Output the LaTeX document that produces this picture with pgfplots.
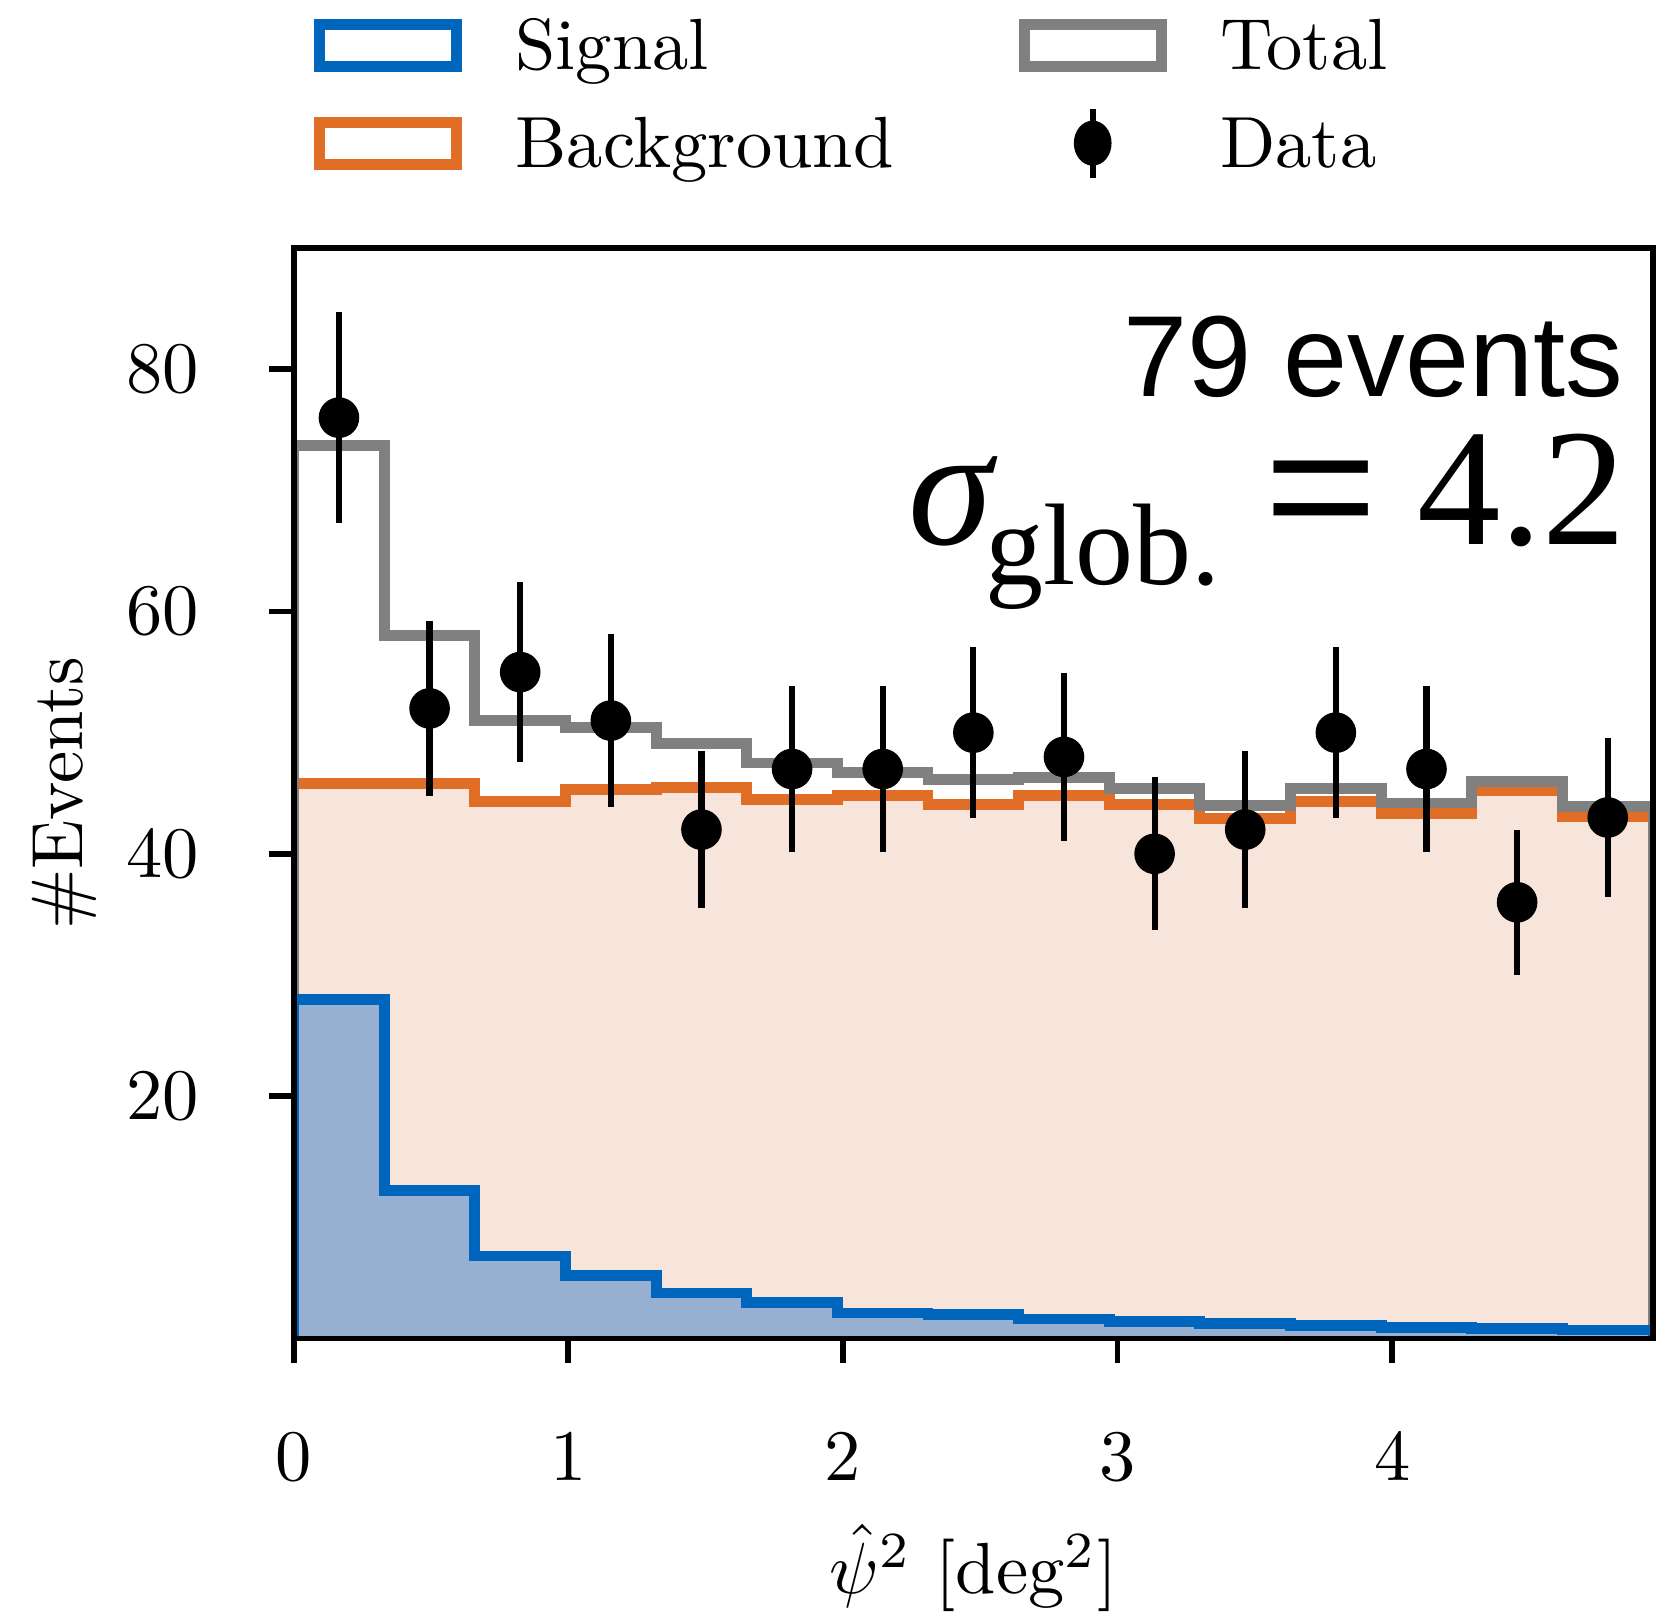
\documentclass[border=0pt]{standalone}
\usepackage{graphicx}
\usepackage{pgfplots}
\pgfplotsset{compat=1.18}
\usepackage{fontspec}
\newfontfamily\sansT{Liberation Sans}
\newfontfamily\serifT{Liberation Serif}
\definecolor{sigblue}{RGB}{0,101,189}
\definecolor{sigfill}{RGB}{151,175,208}
\definecolor{bkgorange}{RGB}{224,110,38}
\definecolor{bkgfill}{RGB}{247,228,218}
\definecolor{totgray}{RGB}{128,128,128}
\begin{document}
\begin{tikzpicture}
\begin{axis}[
  scale only axis, width=187.5pt, height=150.4pt,
  at={(0,0)}, anchor=south west,
  xmin=0, xmax=4.95, ymin=0, ymax=90,
  xtick={0,1,2,3,4}, ytick={20,40,60,80},
  tick align=outside, major tick length=3.4pt,
  tick style={black, line width=0.8pt},
  axis line style={line width=0.8pt},
  xtick pos=bottom, ytick pos=left,
  axis on top=true,
  xticklabel style={inner sep=0pt, anchor=north, yshift=-9.6pt},
  yticklabel style={inner sep=0pt, anchor=east, xshift=-9.5pt},
  xlabel={$\hat{\psi}^2$ [deg$^2$]},
  ylabel={\#Events},
  xlabel style={at={(axis description cs:0.5,-0.234)}, anchor=base, inner sep=0pt},
  ylabel style={at={(axis description cs:-0.169,0.5)}, anchor=center, inner sep=0pt},
  legend columns=2, legend cell align=left,
  legend style={draw=none, fill=none, inner sep=0pt, outer sep=0pt,
    at={(axis description cs:0.0149,1.2104)}, anchor=north west,
    nodes={inner sep=0pt, text height=6.83pt, text depth=0pt},
    row sep=4.7pt, column sep=7.4pt,
    /tikz/every even column/.append style={column sep=17.3pt}},
]
% background fill
\addplot[draw=none, fill=bkgfill, const plot, forget plot] coordinates {
(0,45.8) (0.33,45.8) (0.66,44.3) (0.99,45.3) (1.32,45.5) (1.65,44.5) (1.98,44.8) (2.31,44.1) (2.64,44.8) (2.97,44.1) (3.30,42.9) (3.63,44.3) (3.96,43.3) (4.29,45.2) (4.62,43.1) (4.95,43.1)} \closedcycle;
% signal fill
\addplot[draw=none, fill=sigfill, const plot, forget plot] coordinates {
(0,28.0) (0.33,12.2) (0.66,6.8) (0.99,5.2) (1.32,3.75) (1.65,2.95) (1.98,2.1) (2.31,2.0) (2.64,1.6) (2.97,1.4) (3.30,1.25) (3.63,1.1) (3.96,0.9) (4.29,0.85) (4.62,0.7) (4.95,0.7)} \closedcycle;
% background line
\addplot[bkgorange, line width=1.5pt, const plot, forget plot] coordinates {
(0,0) (0,45.8) (0.33,45.8) (0.66,44.3) (0.99,45.3) (1.32,45.5) (1.65,44.5) (1.98,44.8) (2.31,44.1) (2.64,44.8) (2.97,44.1) (3.30,42.9) (3.63,44.3) (3.96,43.3) (4.29,45.2) (4.62,43.1) (4.95,43.1) (4.95,0)};
% total line
\addplot[totgray, line width=1.5pt, const plot, forget plot] coordinates {
(0,0) (0,73.7) (0.33,58.0) (0.66,51.0) (0.99,50.4) (1.32,49.1) (1.65,47.5) (1.98,46.7) (2.31,46.1) (2.64,46.3) (2.97,45.4) (3.30,44.0) (3.63,45.4) (3.96,44.2) (4.29,46.0) (4.62,43.9) (4.95,43.9) (4.95,0)};
% signal line
\addplot[sigblue, line width=1.5pt, const plot, forget plot] coordinates {
(0,0) (0,28.0) (0.33,12.2) (0.66,6.8) (0.99,5.2) (1.32,3.75) (1.65,2.95) (1.98,2.1) (2.31,2.0) (2.64,1.6) (2.97,1.4) (3.30,1.25) (3.63,1.1) (3.96,0.9) (4.29,0.85) (4.62,0.7) (4.95,0.7) (4.95,0)};
% data
\addplot[black, only marks, mark=*, mark size=2.6pt, forget plot,
  error bars/.cd, y dir=both, y explicit, error mark=none,
  error bar style={line width=0.85pt}] coordinates {
(0.165,76) +- (0,8.72)
(0.495,52) +- (0,7.21)
(0.825,55) +- (0,7.42)
(1.155,51) +- (0,7.14)
(1.485,42) +- (0,6.48)
(1.815,47) +- (0,6.86)
(2.145,47) +- (0,6.86)
(2.475,50) +- (0,7.07)
(2.805,48) +- (0,6.93)
(3.135,40) +- (0,6.32)
(3.465,42) +- (0,6.48)
(3.795,50) +- (0,7.07)
(4.125,47) +- (0,6.86)
(4.455,36) +- (0,6.00)
(4.785,43) +- (0,6.56)};
% legend
\addlegendimage{legend image code/.code={\path[draw=none,fill=none] (0pt,-3.65pt) rectangle (20.4pt,3.65pt); \draw[sigblue, line width=1.5pt, fill=none] (0.75pt,-2.9pt) rectangle (19.65pt,2.9pt);}}
\addlegendentry{Signal}
\addlegendimage{legend image code/.code={\path[draw=none,fill=none] (0pt,-3.65pt) rectangle (20.4pt,3.65pt); \draw[totgray, line width=1.5pt, fill=none] (0.75pt,-2.9pt) rectangle (19.65pt,2.9pt);}}
\addlegendentry{Total}
\addlegendimage{legend image code/.code={\path[draw=none,fill=none] (0pt,-3.65pt) rectangle (20.4pt,3.65pt); \draw[bkgorange, line width=1.5pt, fill=none] (0.75pt,-2.9pt) rectangle (19.65pt,2.9pt);}}
\addlegendentry{Background}
\addlegendimage{legend image code/.code={\path[draw=none,fill=none] (0pt,-3.65pt) rectangle (20.4pt,3.65pt); \draw[black, line width=0.85pt] (10.2pt,-4.75pt) -- (10.2pt,4.75pt); \fill[black] (10.2pt,0pt) ellipse (2.4pt and 2.9pt);}}
\addlegendentry{Data}
% annotations
\node[anchor=base east, inner sep=0pt, font={\sansT\fontsize{15.9}{18}\selectfont}] at (rel axis cs:0.979,0.8637) {79 events};
\node[anchor=base east, inner sep=0pt, font={\serifT\fontsize{23}{27}\selectfont}] at (rel axis cs:0.981,0.728) {{\fontsize{23.5}{27}\selectfont\itshape σ}\hspace{-1pt}\raisebox{-5.5pt}{\fontsize{16}{18}\selectfont glob.}\hspace{6pt}\scalebox{1.14}[1]{\sansT\fontsize{23.5}{27}\selectfont =}\hspace{5.5pt}4.2};
\end{axis}
\pgfresetboundingbox
\path[use as bounding box] (-40.5pt,-38.4pt) rectangle (187.9pt,184.6pt);
\end{tikzpicture}
\end{document}
